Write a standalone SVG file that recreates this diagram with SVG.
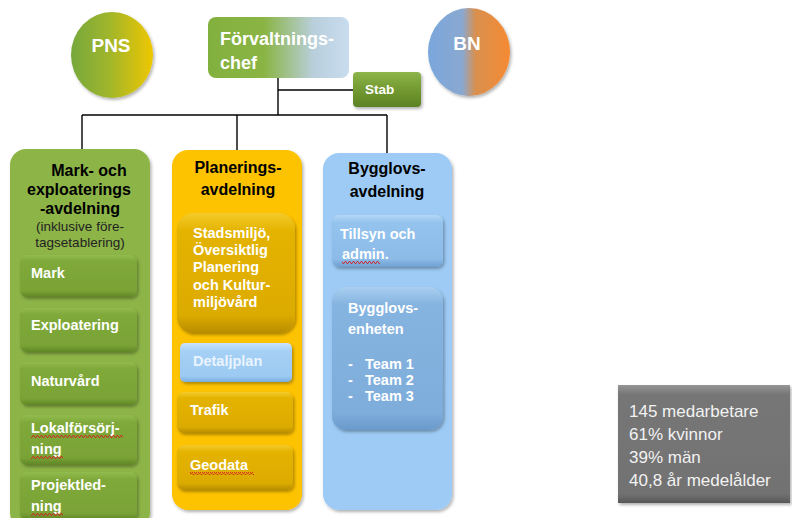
<svg xmlns="http://www.w3.org/2000/svg" width="792" height="518" viewBox="0 0 792 518">
<defs>
  <linearGradient id="gPNS" x1="0" y1="0" x2="1" y2="0">
    <stop offset="0" stop-color="#76a83c"/><stop offset="0.45" stop-color="#9fb52c"/><stop offset="1" stop-color="#eec700"/>
  </linearGradient>
  <linearGradient id="gBN" x1="0" y1="0" x2="1" y2="0">
    <stop offset="0" stop-color="#7aa7dc"/><stop offset="0.42" stop-color="#8aa8d0"/><stop offset="0.58" stop-color="#d9904f"/><stop offset="1" stop-color="#f58a33"/>
  </linearGradient>
  <linearGradient id="gChef" x1="0" y1="0" x2="1" y2="0">
    <stop offset="0" stop-color="#82b03e"/><stop offset="0.4" stop-color="#8ab545"/><stop offset="0.75" stop-color="#b9cfdc"/><stop offset="1" stop-color="#c8dcef"/>
  </linearGradient>
  <linearGradient id="gStab" x1="0" y1="0" x2="0" y2="1">
    <stop offset="0" stop-color="#8cb54c"/><stop offset="0.5" stop-color="#739a30"/><stop offset="1" stop-color="#5d8225"/>
  </linearGradient>
  <linearGradient id="gGreenSub" x1="0" y1="0" x2="0" y2="1">
    <stop offset="0" stop-color="#93bc4f"/><stop offset="0.15" stop-color="#7fa93a"/><stop offset="0.85" stop-color="#7aa336"/><stop offset="1" stop-color="#5f8626"/>
  </linearGradient>
  <linearGradient id="gYellowSub" x1="0" y1="0" x2="0" y2="1">
    <stop offset="0" stop-color="#f4cb2a"/><stop offset="0.15" stop-color="#e4b300"/><stop offset="0.85" stop-color="#dcab00"/><stop offset="1" stop-color="#b88c00"/>
  </linearGradient>
  <linearGradient id="gBlueSub" x1="0" y1="0" x2="0" y2="1">
    <stop offset="0" stop-color="#b3d7f7"/><stop offset="0.15" stop-color="#94c3ee"/><stop offset="0.85" stop-color="#8cbbe8"/><stop offset="1" stop-color="#6e9fcf"/>
  </linearGradient>
  <linearGradient id="gBlueSub2" x1="0" y1="0" x2="0" y2="1">
    <stop offset="0" stop-color="#a9cef0"/><stop offset="0.12" stop-color="#86b4e0"/><stop offset="0.88" stop-color="#7eaddb"/><stop offset="1" stop-color="#6a9acb"/>
  </linearGradient>
  <linearGradient id="gDetalj" x1="0" y1="0" x2="0" y2="1">
    <stop offset="0" stop-color="#c9e4fb"/><stop offset="0.2" stop-color="#a6d0f5"/><stop offset="0.85" stop-color="#9ccaf2"/><stop offset="1" stop-color="#7aaee0"/>
  </linearGradient>
  <linearGradient id="gStats" x1="0" y1="0" x2="0" y2="1">
    <stop offset="0" stop-color="#969696"/><stop offset="0.08" stop-color="#767676"/><stop offset="0.92" stop-color="#727272"/><stop offset="1" stop-color="#585858"/>
  </linearGradient>
  <filter id="sh" x="-10%" y="-10%" width="125%" height="125%">
    <feDropShadow dx="1.5" dy="2" stdDeviation="1.5" flood-color="#000" flood-opacity="0.3"/>
  </filter>
  <pattern id="wave" x="0" y="0" width="4" height="3" patternUnits="userSpaceOnUse">
    <path d="M0,2.5 L1,0.5 L2,0.5 L3,2.5 L4,2.5" fill="none" stroke="#d42020" stroke-width="0.9"/>
  </pattern>
  <style>
    .w { fill:#ffffff; font-family:"Liberation Sans", Arial, sans-serif; font-weight:bold; }
    .t { fill:#000000; font-family:"Liberation Sans", Arial, sans-serif; font-weight:bold; font-size:16px; text-anchor:middle; }
    .s { fill:#222222; font-family:"Liberation Sans", Arial, sans-serif; font-size:13.5px; text-anchor:middle; }
    .sub { font-size:14.5px; }
    .lt { fill:#eaf4ff; }
    .ln { stroke:#000; stroke-width:1.4; fill:none; }
    .st { fill:#f2f2f2; font-family:"Liberation Sans", Arial, sans-serif; font-size:17px; }
  </style>
</defs>
<rect width="792" height="518" fill="#ffffff"/>

<g id="connectors">
  <path class="ln" d="M278,78 V115"/>
  <path class="ln" d="M278,90 H353"/>
  <path class="ln" d="M82,115 H387"/>
  <path class="ln" d="M82,115 V150"/>
  <path class="ln" d="M237,115 V150"/>
  <path class="ln" d="M387,115 V153"/>
</g>

<g id="pns">
  <ellipse cx="112" cy="55" rx="41" ry="43" fill="url(#gPNS)" filter="url(#sh)"/>
  <text class="w" x="111" y="52" font-size="19" text-anchor="middle">PNS</text>
</g>

<g id="bn">
  <ellipse cx="469" cy="52" rx="41" ry="44" fill="url(#gBN)" filter="url(#sh)"/>
  <text class="w" x="467" y="50" font-size="19" text-anchor="middle">BN</text>
</g>

<g id="chef">
  <rect x="208" y="17" width="141" height="61" rx="8" fill="url(#gChef)"/>
  <text class="w" x="220" y="45" font-size="18">Förvaltnings-</text>
  <text class="w" x="220" y="69" font-size="18">chef</text>
</g>

<g id="stab">
  <rect x="353" y="72" width="68" height="35" rx="4" fill="url(#gStab)" filter="url(#sh)"/>
  <text class="w" x="365" y="94" font-size="13.5">Stab</text>
</g>

<g id="mark-avd">
  <rect x="10" y="149" width="140" height="380" rx="16" fill="#8db447" filter="url(#sh)"/>
  <text class="t" x="89" y="176">Mark- och</text>
  <text class="t" x="79" y="195">exploaterings</text>
  <text class="t" x="80" y="214">-avdelning</text>
  <text class="s" x="80" y="231">(inklusive före-</text>
  <text class="s" x="80" y="247">tagsetablering)</text>
</g>
<g id="mark">
  <rect x="20" y="255" width="117" height="42" rx="7" fill="url(#gGreenSub)" filter="url(#sh)"/>
  <text class="w sub" x="31" y="278">Mark</text>
</g>
<g id="exploatering">
  <rect x="20" y="308" width="117" height="44" rx="7" fill="url(#gGreenSub)" filter="url(#sh)"/>
  <text class="w sub" x="31" y="330">Exploatering</text>
</g>
<g id="naturvard">
  <rect x="20" y="362" width="117" height="43" rx="7" fill="url(#gGreenSub)" filter="url(#sh)"/>
  <text class="w sub" x="31" y="386">Naturvård</text>
</g>
<g id="lokal">
  <rect x="20" y="415" width="117" height="50" rx="7" fill="url(#gGreenSub)" filter="url(#sh)"/>
  <text class="w sub" x="31" y="433">Lokalförsörj-</text>
  <text class="w sub" x="31" y="454">ning</text>
  <rect x="31" y="435" width="92" height="3" fill="url(#wave)"/>
  <rect x="31" y="456" width="32" height="3" fill="url(#wave)"/>
</g>
<g id="projekt">
  <rect x="20" y="472" width="117" height="48" rx="7" fill="url(#gGreenSub)" filter="url(#sh)"/>
  <text class="w sub" x="31" y="490">Projektled-</text>
  <text class="w sub" x="31" y="511">ning</text>
  <rect x="31" y="513" width="32" height="3" fill="url(#wave)"/>
</g>

<g id="plan-avd">
  <rect x="172" y="150" width="130" height="360" rx="16" fill="#fec300" filter="url(#sh)"/>
  <text class="t" x="238" y="173">Planerings-</text>
  <text class="t" x="238" y="195">avdelning</text>
</g>
<g id="stadsmiljo">
  <rect x="177" y="213" width="118" height="120" rx="16" fill="url(#gYellowSub)" filter="url(#sh)"/>
  <text class="w sub" x="193" y="238">Stadsmiljö,</text>
  <text class="w sub" x="193" y="255">Översiktlig</text>
  <text class="w sub" x="193" y="272">Planering</text>
  <text class="w sub" x="193" y="290">och Kultur-</text>
  <text class="w sub" x="193" y="307">miljövård</text>
</g>
<g id="detaljplan">
  <rect x="180" y="343" width="112" height="39" rx="5" fill="url(#gDetalj)" filter="url(#sh)"/>
  <text class="w sub lt" x="193" y="366">Detaljplan</text>
</g>
<g id="trafik">
  <rect x="177" y="392" width="116" height="41" rx="7" fill="url(#gYellowSub)" filter="url(#sh)"/>
  <text class="w sub" x="190" y="415">Trafik</text>
</g>
<g id="geodata">
  <rect x="177" y="445" width="116" height="45" rx="7" fill="url(#gYellowSub)" filter="url(#sh)"/>
  <text class="w sub" x="190" y="470">Geodata</text>
  <rect x="190" y="472" width="64" height="3" fill="url(#wave)"/>
</g>

<g id="bygg-avd">
  <rect x="323" y="153" width="129" height="357" rx="16" fill="#9dcbf5" filter="url(#sh)"/>
  <text class="t" x="387" y="174">Bygglovs-</text>
  <text class="t" x="387" y="197">avdelning</text>
</g>
<g id="tillsyn">
  <rect x="332" y="215" width="111" height="52" rx="7" fill="url(#gBlueSub)" filter="url(#sh)"/>
  <text class="w sub" x="340" y="239">Tillsyn och</text>
  <text class="w sub" x="342" y="259">admin.</text>
  <rect x="342" y="261" width="38" height="3" fill="url(#wave)"/>
</g>
<g id="bygglovsenheten">
  <rect x="332" y="287" width="111" height="143" rx="14" fill="url(#gBlueSub2)" filter="url(#sh)"/>
  <text class="w sub" x="348" y="313">Bygglovs-</text>
  <text class="w sub" x="348" y="334">enheten</text>
  <text class="w sub" x="348" y="369">-</text>
  <text class="w sub" x="365" y="369">Team 1</text>
  <text class="w sub" x="348" y="385">-</text>
  <text class="w sub" x="365" y="385">Team 2</text>
  <text class="w sub" x="348" y="401">-</text>
  <text class="w sub" x="365" y="401">Team 3</text>
</g>

<g id="stats">
  <rect x="618" y="385" width="172" height="118" fill="url(#gStats)" filter="url(#sh)"/>
  <text class="st" x="629" y="417">145 medarbetare</text>
  <text class="st" x="629" y="440">61% kvinnor</text>
  <text class="st" x="629" y="463">39% män</text>
  <text class="st" x="629" y="486">40,8 år medelålder</text>
</g>
</svg>
